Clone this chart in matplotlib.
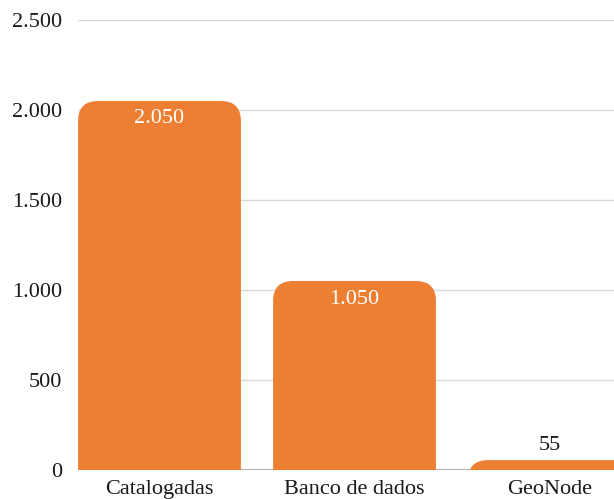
import matplotlib
matplotlib.use('Agg')
import matplotlib.pyplot as plt
from matplotlib.patches import FancyBboxPatch
from matplotlib.ticker import FuncFormatter

# data
categories = ['Catalogadas', 'Banco de dados', 'GeoNode']
values = [2050, 1050, 55]
yticks = [0, 500, 1000, 1500, 2000, 2500]

ORANGE = '#ED7F33'
TEXT = '#1a1a1a'

plt.rcParams['font.family'] = ['Liberation Serif', 'DejaVu Serif']
FS = 16

W, H = 614, 499
fig = plt.figure(figsize=(W / 100, H / 100), dpi=100)

# axes in pixels: left at 78, 195 px per category, y 0 at 470, 2500 at 20
px_per_cat = 195
x0, x1 = -0.418, 2.5
left_px = 78
width_px = (x1 - x0) * px_per_cat
bottom_px, top_px = 470, 20
ax = fig.add_axes([left_px / W, (H - bottom_px) / H, width_px / W, (bottom_px - top_px) / H])
ax.set_xlim(x0, x1)
ax.set_ylim(0, 2500)

for s in ax.spines.values():
    s.set_visible(False)

ax.set_yticks(yticks)
ax.yaxis.set_major_formatter(FuncFormatter(lambda v, p: f'{int(v):,}'.replace(',', '.')))
ax.tick_params(axis='y', length=0, pad=11.5, labelsize=FS, labelcolor=TEXT)
ax.tick_params(axis='x', length=0, pad=7, labelsize=FS, labelcolor=TEXT)
ax.set_xticks(range(len(categories)))
ax.set_xticklabels(categories)

for t in yticks[1:]:
    ax.axhline(t, color='#d9d9d9', lw=1, zorder=0)
ax.axhline(0, color='#b0b0b0', lw=1.5, zorder=0)

bar_w = 0.835
px_per_unit_y = (bottom_px - top_px) / 2500
r_px = 20
r_x = r_px / px_per_cat
r_y = r_px / px_per_unit_y
for i, v in enumerate(values):
    p = FancyBboxPatch((i - bar_w / 2, -r_y), bar_w, v + r_y,
                       boxstyle=f'round,pad=0,rounding_size={r_x}',
                       mutation_aspect=r_y / r_x,
                       facecolor=ORANGE, edgecolor='none', zorder=2)
    ax.add_patch(p)
    label = f'{v:,}'.replace(',', '.')
    if v > 300:
        ax.text(i, v - 18 / px_per_unit_y, label, ha='center', va='center',
                color='white', fontsize=FS, zorder=3)
    else:
        ax.text(i, v + 15 / px_per_unit_y, label, ha='center', va='center',
                color=TEXT, fontsize=FS, zorder=3)

fig.savefig('out.png', dpi=100)
